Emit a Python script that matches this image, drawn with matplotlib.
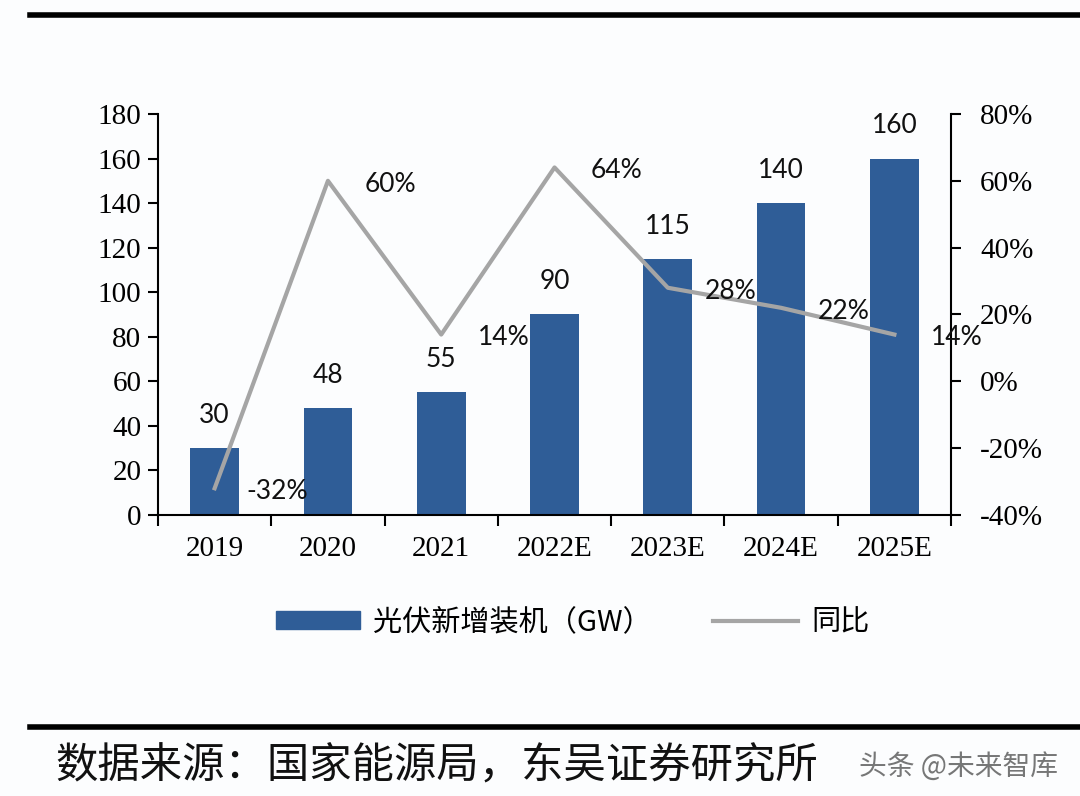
import matplotlib
matplotlib.use("Agg")
import matplotlib.pyplot as plt
import numpy as np
from matplotlib.patches import Patch
from matplotlib.lines import Line2D

plt.rcParams['font.family'] = ['Liberation Serif', 'Noto Sans CJK SC', 'DejaVu Sans']

years = ['2019', '2020', '2021', '2022E', '2023E', '2024E', '2025E']
installs = [30, 48, 55, 90, 115, 140, 160]
yoy = [-32, 60, 14, 64, 28, 22, 14]
yoy_labels = ['-32%', '60%', '14%', '64%', '28%', '22%', '14%']

bar_color = '#2f5d97'
line_color = '#a5a5a5'
bg = '#fcfdfe'

fig = plt.figure(figsize=(10.8, 7.96), dpi=100, facecolor=bg)
ax = fig.add_axes([0.1463, 0.353, 0.7343, 0.5038])
ax.set_facecolor(bg)
ax2 = ax.twinx()

x = np.arange(len(years))
ax.bar(x, installs, width=0.43, color=bar_color, zorder=2)
ax.set_xlim(-0.5, len(years) - 0.5)
ax.set_ylim(0, 180)
ax.set_yticks(range(0, 181, 20))
ax.set_xticks(x)
ax.set_xticklabels(years, fontsize=21)
ax.set_xticks(np.arange(-0.5, len(years), 1), minor=True)
ax.tick_params(axis='x', which='major', length=0, pad=15)
ax.tick_params(axis='x', which='minor', length=8, width=1.5, direction='out')
ax.tick_params(axis='y', labelsize=21, length=7, width=1.5, direction='out', pad=5)

for xi, v in zip(x, installs):
    ax.text(xi, v + 9, str(v), ha='center', va='bottom', fontsize=19,
            family='Lato', color='#111111')

ax2.plot(x, yoy, color=line_color, lw=3, zorder=3)
ax2.set_ylim(-40, 80)
ax2.set_yticks(range(-40, 81, 20))
ax2.set_yticklabels([f'{v}%' for v in range(-40, 81, 20)])
ax2.tick_params(axis='y', labelsize=21, length=7, width=1.5, direction='out', pad=14)
for xi, v, lab in zip(x, yoy, yoy_labels):
    ax2.text(xi + 0.55, v - 1, lab, ha='center', va='center', fontsize=19,
             family='Lato', color='#111111')

for a in (ax, ax2):
    a.spines['top'].set_visible(False)
    for s in ('left', 'right', 'bottom'):
        a.spines[s].set_linewidth(1.5)
ax.spines['right'].set_visible(False)
ax2.spines['left'].set_visible(False)
ax2.spines['bottom'].set_visible(False)

handles = [Patch(facecolor=bar_color, edgecolor=bar_color),
           Line2D([0], [0], color=line_color, lw=3)]
fig.legend(handles, ['光伏新增装机（GW）', '同比'], loc='center',
           bbox_to_anchor=(0.530, 0.218), ncol=2, frameon=False,
           prop={'family': ['Noto Sans CJK SC'], 'size': 21},
           handlelength=2.9, handleheight=0.6, columnspacing=2.1, handletextpad=0.45)

# top and bottom rules
fig.add_artist(Line2D([0.028, 1.0], [0.981, 0.981], color='black', lw=4))
fig.add_artist(Line2D([0.028, 1.0], [0.087, 0.087], color='black', lw=4))

fig.text(0.051, 0.037, '数据来源：国家能源局，东吴证券研究所', fontsize=30.5,
         family=['Noto Sans CJK SC'], va='center', ha='left', color='#111111')
fig.text(0.795, 0.037, '头条 @未来智库', fontsize=20, family=['Noto Sans CJK SC'],
         va='center', ha='left', color='#555555', alpha=0.8)

fig.savefig('out.png', dpi=100, facecolor=bg)
